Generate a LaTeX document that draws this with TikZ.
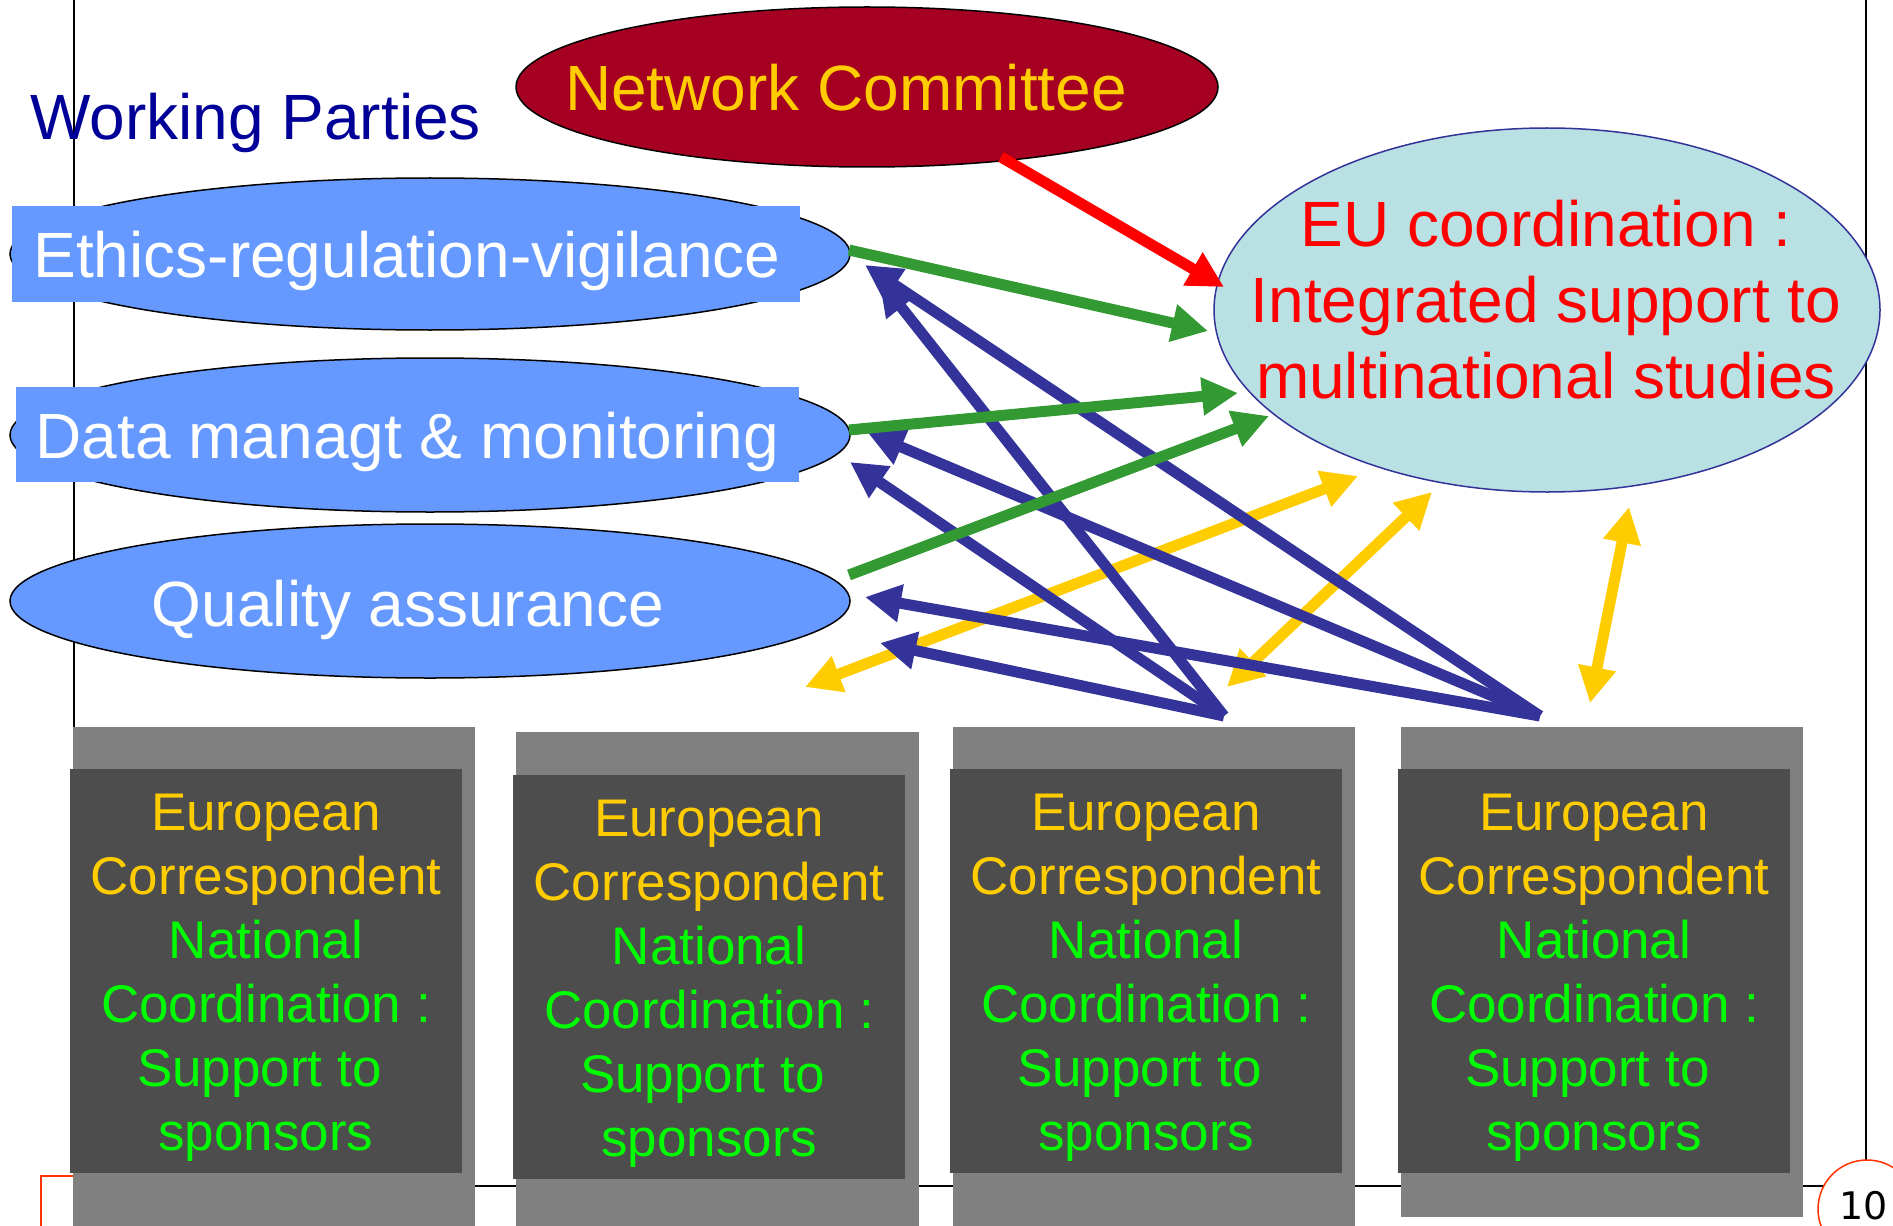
\documentclass[tikz,border=0pt]{standalone}
\usepackage{fontspec}
\setmainfont{Liberation Sans}
\newfontfamily\pagenumfont{DejaVu Sans}
\usetikzlibrary{arrows.meta,shapes.geometric}

\definecolor{ncred}{HTML}{A50021}
\definecolor{gold}{HTML}{FFCC00}
\definecolor{wpblue}{HTML}{6699FF}
\definecolor{navy}{HTML}{000099}
\definecolor{linkblue}{HTML}{333399}
\definecolor{linkgreen}{HTML}{339933}
\definecolor{eucyan}{HTML}{B9E0E3}
\definecolor{ncgreen}{HTML}{00FF00}
\definecolor{boxdark}{HTML}{4D4D4D}
\definecolor{boxgray}{HTML}{808080}
\definecolor{pagered}{HTML}{FF3300}

\newcommand{\corrtext}{\textcolor{gold}{European}\\\textcolor{gold}{Correspondent}\\National\\Coordination :\\Support to\kern0.25em\\sponsors}

\begin{document}
\begin{tikzpicture}[x=0.5pt,y=-0.5pt,
  wpshape/.style={ellipse, draw=black, line width=0.75pt, fill=wpblue,
    minimum width=420pt, inner sep=0pt},
  wpband/.style={rectangle, fill=wpblue, inner sep=0pt},
  wptext/.style={text=white, font=\fontsize{32}{38}\selectfont, anchor=base, inner sep=0pt},
  outerbox/.style={fill=boxgray},
  innerbox/.style={rectangle, fill=boxdark, inner sep=0pt,
    minimum width=196pt, minimum height=202pt},
  boxtext/.style={text=ncgreen, font=\fontsize{26.5}{32}\selectfont,
    align=center, anchor=north, inner sep=0pt},
  bluelink/.style={draw=linkblue, line width=5.5pt, -{Triangle[length=18pt,width=18pt]}},
  greenlink/.style={draw=linkgreen, line width=5.5pt, -{Triangle[length=18pt,width=18pt]}},
  redlink/.style={draw=red, line width=5.5pt, -{Triangle[length=18pt,width=18pt]}},
  yellowlink/.style={draw=gold, line width=5.5pt,
    {Triangle[length=18pt,width=18pt]}-{Triangle[length=18pt,width=18pt]}},
]
\useasboundingbox (0,0) rectangle (1893,1225);
\clip (0,0) rectangle (1893,1225);
\fill[white] (0,0) rectangle (1893,1225);

% slide frame, footer corner and page number
\draw[line width=1pt] (73.5,0) -- (73.5,1186) -- (1866,1186);
\draw[line width=1pt] (1866,0) -- (1866,1186);
\draw[pagered, line width=0.75pt] (41,1240) -- (41,1176) -- (120,1176);
\node[circle, draw=pagered, fill=white, line width=0.75pt, minimum size=49pt, inner sep=0pt]
  (pagecircle) at (1867,1209) {};
\node[anchor=base west, inner sep=0pt, font=\pagenumfont\fontsize{19}{22}\selectfont]
  (pagenum) at (1839,1219) {10};

% national coordination boxes
\fill[outerbox] (73,727) rectangle (475,1240);
\fill[outerbox] (516,732) rectangle (918.5,1240);
\fill[outerbox] (952.7,727) rectangle (1355,1240);
\fill[outerbox] (1401,727) rectangle (1803,1217);
\node[innerbox] (nc1) at (266,971) {};
\node[innerbox] (nc2) at (709,977) {};
\node[innerbox] (nc3) at (1146,971) {};
\node[innerbox] (nc4) at (1594,971) {};
\node[boxtext] (nc1t) at (266,794) {\corrtext};
\node[boxtext] (nc2t) at (709,800) {\corrtext};
\node[boxtext] (nc3t) at (1146,794) {\corrtext};
\node[boxtext] (nc4t) at (1594,794) {\corrtext};

% title and committee
\node[anchor=base west, inner sep=0pt, text=navy, font=\fontsize{32}{38}\selectfont]
  (wptitle) at (30,140) {Working Parties};
\node[ellipse, draw=black, line width=0.75pt, fill=ncred, minimum width=351pt,
  minimum height=80pt, inner sep=0pt] (committee) at (867,87) {};
\node[anchor=base, inner sep=0pt, text=gold, font=\fontsize{32}{38}\selectfont]
  (committeet) at (846,111) {Network Committee};

% working parties
\node[wpshape, minimum height=76pt] (ethics) at (430,254) {};
\node[wpband, minimum width=394pt, minimum height=48pt] (ethicsband) at (406,254) {};
\node[wptext] (ethicst) at (407,277) {Ethics-regulation-vigilance};
\node[wpshape, minimum height=77pt] (data) at (430,435) {};
\node[wpband, minimum width=391.5pt, minimum height=47.5pt] (databand) at (407.5,434.5) {};
\node[wptext] (datat) at (407.5,458) {Data managt \& monitoring};
\node[wpshape, minimum height=77pt] (quality) at (430,601) {};
\node[wptext] (qualityt) at (408,626) {Quality assurance};

% EU coordination
\node[ellipse, draw=linkblue, line width=0.75pt, fill=eucyan, minimum width=333pt,
  minimum height=182pt, inner sep=0pt] (eu) at (1547,310) {};
\node[anchor=north, inner sep=0pt, align=center, text=red,
  font=\fontsize{32}{38}\selectfont] (eut) at (1546,200)
  {EU coordination :\\Integrated support to\\multinational studies};

% connector end points
\coordinate (s3) at (1224,716);
\coordinate (s4) at (1540,716);
\coordinate (ethA) at (865,265);
\coordinate (ethB) at (879,279);
\coordinate (datC) at (868,433);
\coordinate (datD) at (850,462);
\coordinate (quaE) at (865,597);
\coordinate (quaF) at (880,643);
\coordinate (g1s) at (849,250);
\coordinate (g1e) at (1208,331);
\coordinate (g2s) at (849,430);
\coordinate (g2e) at (1238,393);
\coordinate (g3s) at (849,575);
\coordinate (g3e) at (1269,416);
\coordinate (rs) at (1001,157);
\coordinate (re) at (1224,287);
\coordinate (y1a) at (805,687);
\coordinate (y1b) at (1358,476);
\coordinate (y2a) at (1227,687);
\coordinate (y2b) at (1432,492);
\coordinate (y3a) at (1590,703);
\coordinate (y3b) at (1629,507);

% links between the national and European levels
\draw[yellowlink] (y1a) -- (y1b);
\draw[yellowlink] (y2a) -- (y2b);
\draw[yellowlink] (y3a) -- (y3b);

% national coordinators reporting to the working parties
\draw[bluelink] (s4) -- (ethA);
\draw[bluelink] (s3) -- (ethB);
\draw[bluelink] (s4) -- (datC);
\draw[bluelink] (s3) -- (datD);
\draw[bluelink] (s4) -- (quaE);
\draw[bluelink] (s3) -- (quaF);

% working parties feeding the EU coordination
\draw[greenlink] (g1s) -- (g1e);
\draw[greenlink] (g2s) -- (g2e);
\draw[greenlink] (g3s) -- (g3e);

% committee steering
\draw[redlink] (rs) -- (re);
\end{tikzpicture}
\end{document}
